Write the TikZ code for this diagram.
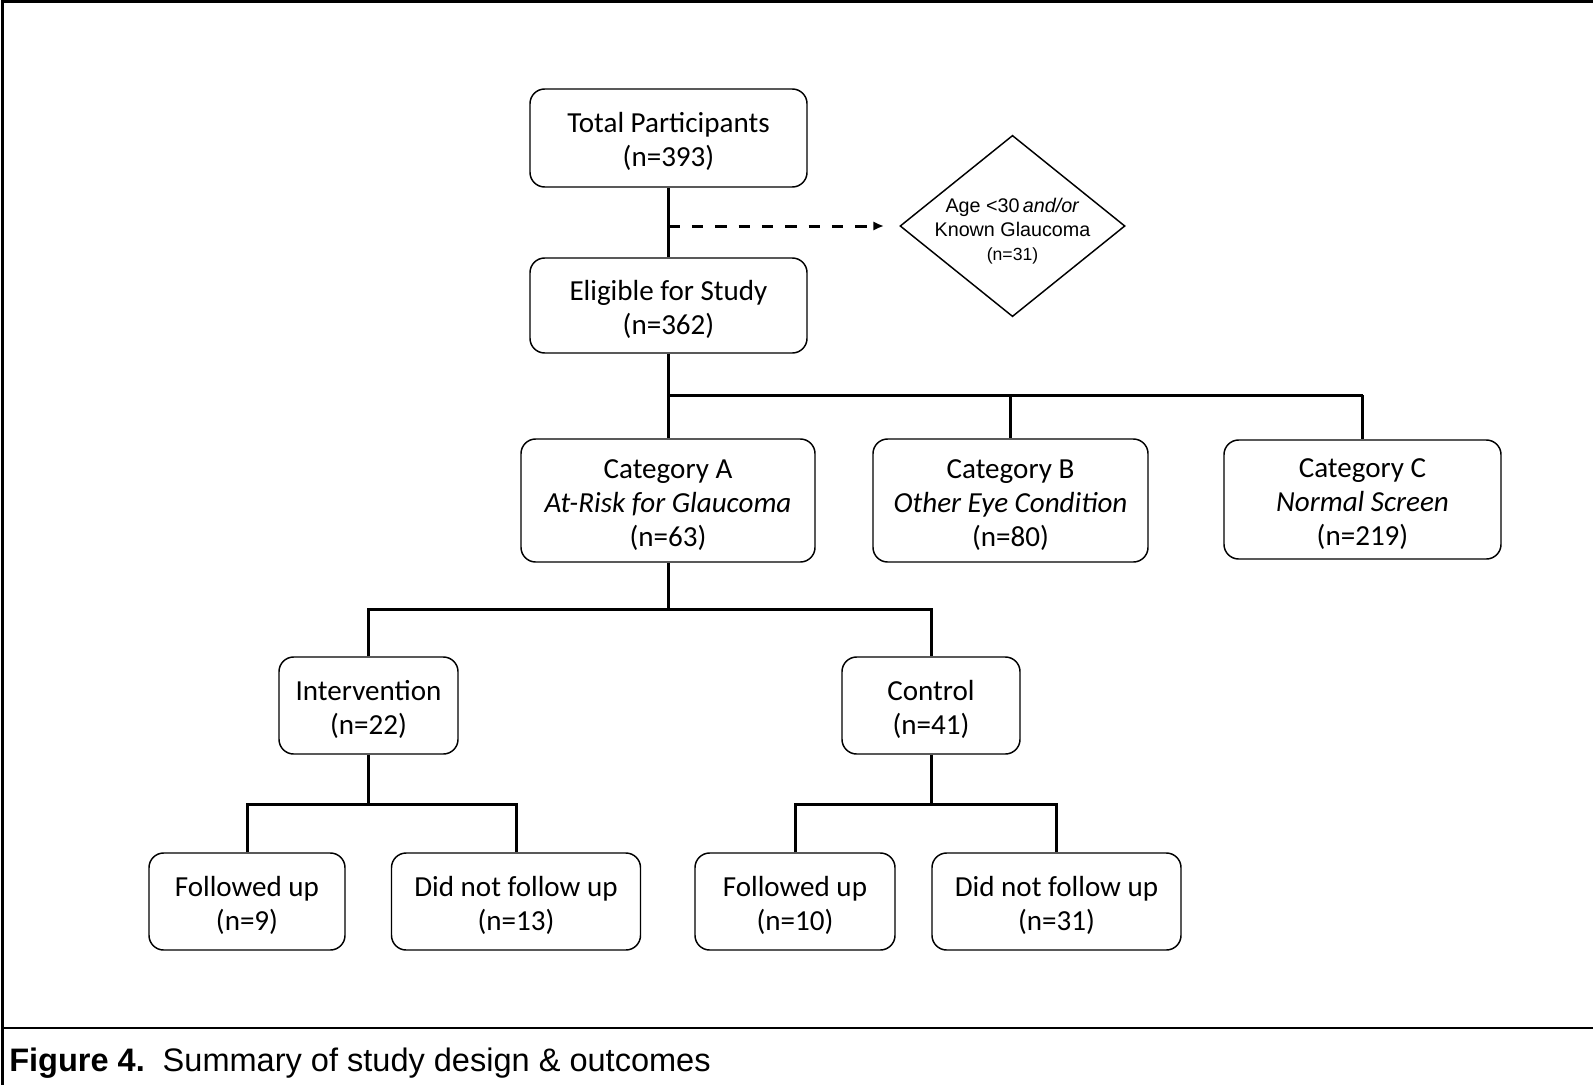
\documentclass[tikz,border=0pt]{standalone}
\usepackage{fontspec}
\setmainfont{Carlito}
\newfontfamily\arialfont{Liberation Sans}
\usetikzlibrary{shapes.geometric,arrows.meta}
\newcommand{\tl}{\rule{0pt}{21pt}}
\tikzset{
  box/.style={draw, line width=1.1pt, rounded corners=11pt, align=center, inner sep=0pt,
    font=\fontsize{21.8}{25.5}\selectfont},
  conn/.style={line width=2.25pt},
}
\begin{document}
\begin{tikzpicture}[x=0.75pt,y=-0.75pt]
\useasboundingbox (0,0) rectangle (1593,1085);
% frame
\draw[line width=1.6pt] (1593,1.5) -- (2.5,1.5) -- (2.5,1085);
\draw[line width=1.6pt] (2.5,1028) -- (1593,1028);
% nodes
\node[box, minimum width=207.75pt, minimum height=73.5pt] (total) at (668.5,138) {\tl Total Participants\\(n=393)};
\node[box, minimum width=207.75pt, minimum height=71.25pt] (elig) at (668.5,305.5) {\tl Eligible for Study\\(n=362)};
\node[draw, diamond, line width=1.1pt, inner sep=0pt, minimum width=168.75pt, minimum height=136pt] (excl) at (1012.5,226) {};
\node[align=center, inner sep=0pt, font=\arialfont\fontsize{14.8}{18.2}\selectfont] (excltext) at (1012.5,231)
  {Age {<}30\,\textit{and/or}\\Known Glaucoma\\\fontsize{13.2}{16}\selectfont (n=31)};
\node[box, minimum width=220.5pt, minimum height=92.25pt] (catA) at (668,500.5) {\tl Category A\\\textit{At-Risk for Glaucoma}\\(n=63)};
\node[box, minimum width=206.25pt, minimum height=92.25pt] (catB) at (1010.5,500.5) {\tl Category B\\\textit{Other Eye Condition}\\(n=80)};
\node[box, minimum width=207.75pt, minimum height=89.25pt] (catC) at (1362.5,499.5) {\tl Category C\\\textit{Normal Screen}\\(n=219)};
\node[box, minimum width=134.25pt, minimum height=72.75pt] (inter) at (368.5,705.5) {\tl Intervention\\(n=22)};
\node[box, minimum width=133.5pt, minimum height=72.75pt] (ctrl) at (931,705.5) {\tl Control\\(n=41)};
\node[box, minimum width=147pt, minimum height=72.75pt] (fu1) at (247,901.5) {\tl Followed up\\(n=9)};
\node[box, minimum width=186.75pt, minimum height=72.75pt] (nf1) at (516,901.5) {\tl Did not follow up\\(n=13)};
\node[box, minimum width=150pt, minimum height=72.75pt] (fu2) at (795,901.5) {\tl Followed up\\(n=10)};
\node[box, minimum width=186.75pt, minimum height=72.75pt] (nf2) at (1056.5,901.5) {\tl Did not follow up\\(n=31)};
% connectors
\draw[conn] (total.south) -- (elig.north);
\coordinate (dstart) at (668.5,226);
\coordinate (dend) at (884,226);
\draw[conn, dash pattern=on 8.5pt off 9pt, -{Latex[length=8pt,width=7pt]}] (dstart) -- (dend);
\coordinate (j1) at (668.5,395);
\draw[conn] (elig.south) -- (elig.south |- j1);
\draw[conn] (catA.north |- j1) -- (catC.north |- j1);
\draw[conn] (catA.north |- j1) -- (catA.north);
\draw[conn] (catB.north |- j1) -- (catB.north);
\draw[conn] (catC.north |- j1) -- (catC.north);
\coordinate (j2) at (668,609.5);
\draw[conn] (catA.south) -- (j2);
\draw[conn] (inter.north) -- (inter.north |- j2) -- (ctrl.north |- j2) -- (ctrl.north);
\coordinate (j3) at (368.5,804.5);
\draw[conn] (inter.south) -- (j3);
\draw[conn] (fu1.north) -- (fu1.north |- j3) -- (nf1.north |- j3) -- (nf1.north);
\coordinate (j4) at (931,804.5);
\draw[conn] (ctrl.south) -- (j4);
\draw[conn] (fu2.north) -- (fu2.north |- j4) -- (nf2.north |- j4) -- (nf2.north);
% caption
\node[anchor=base west, inner sep=0pt, font=\arialfont\fontsize{24.4}{28}\selectfont] (cap) at (9,1071)
  {\textbf{Figure 4.}\hspace{0.55em}Summary of study design \& outcomes};
\end{tikzpicture}
\end{document}
